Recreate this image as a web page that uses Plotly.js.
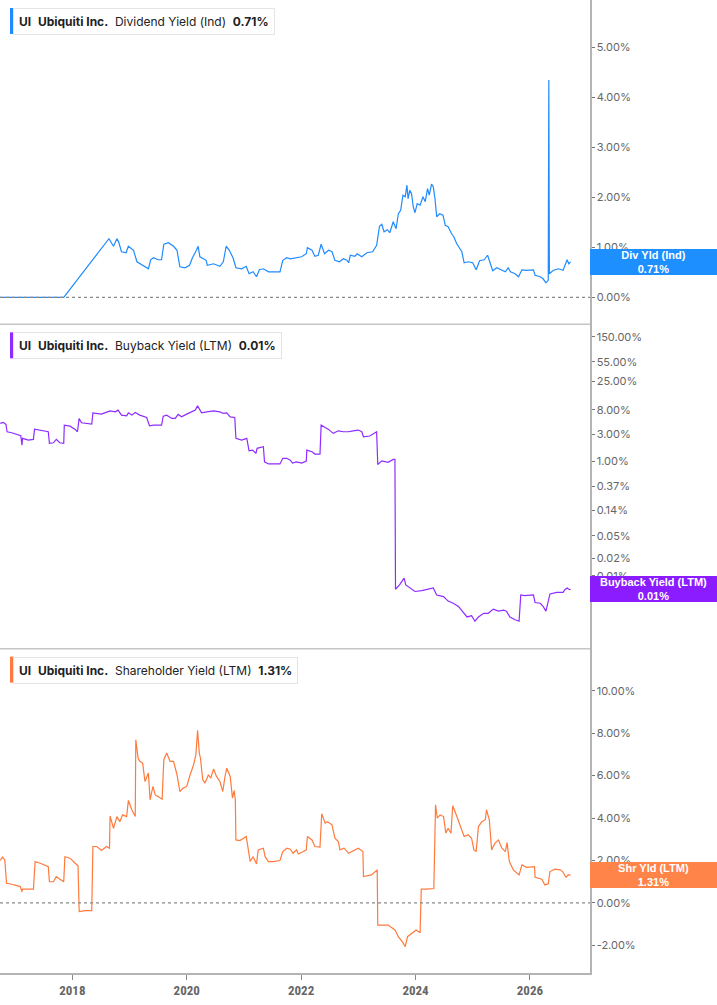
<!DOCTYPE html>
<html><head><meta charset="utf-8">
<script src="https://cdn.plot.ly/plotly-3.0.1.min.js"></script>
<style>html,body{margin:0;padding:0;background:#fff;overflow:hidden}</style>
</head><body><div id="chart" style="width:717px;height:1005px"></div>
<script>
// ---- Data (x in decimal years, y in percent) ----
const ticker = 'UI';
const company = 'Ubiquiti Inc.';
const seriesNames = ['Dividend Yield (Ind)', 'Buyback Yield (LTM)', 'Shareholder Yield (LTM)'];
const shortNames = ['Div Yld (Ind)', 'Buyback Yield (LTM)', 'Shr Yld (LTM)'];
const xTickYears = [2018, 2020, 2022, 2024, 2026];
const divTicks = [0, 1, 2, 3, 4, 5];
const bbTicks = [150, 55, 25, 8, 3, 1, 0.37, 0.14, 0.05, 0.02, 0.01];
const shrTicks = [-2, 0, 2, 4, 6, 8, 10];

const divYears = [
 2016.74, 2017.85, 2018.64, 2018.72, 2018.78, 2018.81, 2018.86, 2018.94, 2018.98, 2019.07,
 2019.13, 2019.24, 2019.33, 2019.37, 2019.42, 2019.50, 2019.56, 2019.60, 2019.68, 2019.77,
 2019.83, 2019.88, 2019.97, 2020.05, 2020.10, 2020.17, 2020.20, 2020.23, 2020.27, 2020.34,
 2020.36, 2020.47, 2020.58, 2020.64, 2020.69, 2020.74, 2020.81, 2020.86, 2020.96, 2021.04,
 2021.09, 2021.16, 2021.22, 2021.27, 2021.34, 2021.43, 2021.51, 2021.63, 2021.68, 2021.75,
 2021.81, 2021.92, 2022.01, 2022.09, 2022.11, 2022.19, 2022.24, 2022.30, 2022.35, 2022.41,
 2022.48, 2022.54, 2022.59, 2022.67, 2022.74, 2022.80, 2022.83, 2022.86, 2022.94, 2022.98,
 2023.06, 2023.15, 2023.25, 2023.32, 2023.37, 2023.41, 2023.45, 2023.51, 2023.55, 2023.61,
 2023.66, 2023.70, 2023.74, 2023.78, 2023.82, 2023.85, 2023.87, 2023.90, 2023.93, 2023.96,
 2023.99, 2024.03, 2024.08, 2024.13, 2024.17, 2024.21, 2024.24, 2024.28, 2024.31, 2024.34,
 2024.37, 2024.42, 2024.48, 2024.52, 2024.57, 2024.63, 2024.67, 2024.72, 2024.81, 2024.85,
 2024.92, 2025.00, 2025.06, 2025.12, 2025.20, 2025.26, 2025.29, 2025.35, 2025.42, 2025.51,
 2025.57, 2025.62, 2025.66, 2025.74, 2025.80, 2025.86, 2025.94, 2026.06, 2026.09, 2026.18,
 2026.23, 2026.28, 2026.32, 2026.33, 2026.34, 2026.41, 2026.50, 2026.58, 2026.63, 2026.65,
 2026.68, 2026.71];
const divValues = [
 0, 0, 1.17, 1.02, 1.17, 1.11, 0.91, 0.89, 1.02, 0.94,
 0.71, 0.64, 0.57, 0.75, 0.79, 0.75, 0.75, 1.06, 1.09, 1.02,
 0.94, 0.61, 0.59, 0.64, 0.79, 0.94, 1.02, 0.81, 0.79, 0.74,
 0.64, 0.67, 0.62, 0.71, 1.02, 0.95, 0.79, 0.59, 0.57, 0.62,
 0.47, 0.51, 0.41, 0.55, 0.57, 0.51, 0.51, 0.51, 0.74, 0.79,
 0.77, 0.80, 0.81, 0.87, 0.99, 0.94, 0.82, 0.84, 1.06, 0.87,
 0.94, 0.91, 0.74, 0.71, 0.77, 0.74, 0.69, 0.84, 0.82, 0.87,
 0.81, 0.89, 0.91, 1.04, 1.42, 1.46, 1.31, 1.35, 1.29, 1.51,
 1.37, 1.67, 1.74, 2.04, 2.01, 2.24, 1.97, 2.14, 2.07, 1.81,
 1.69, 1.87, 1.84, 2.01, 1.91, 2.17, 2.04, 2.26, 2.21, 1.97,
 1.61, 1.67, 1.64, 1.44, 1.41, 1.27, 1.21, 1.07, 0.91, 0.69,
 0.71, 0.69, 0.55, 0.73, 0.75, 0.84, 0.74, 0.53, 0.59, 0.55,
 0.51, 0.59, 0.51, 0.47, 0.41, 0.55, 0.54, 0.55, 0.44, 0.41,
 0.37, 0.29, 0.34, 4.34, 0.47, 0.54, 0.57, 0.54, 0.71, 0.75,
 0.67, 0.71];

const bbYears = [
 2016.74, 2016.79, 2016.84, 2016.86, 2016.94, 2017.03, 2017.10, 2017.12, 2017.13, 2017.23,
 2017.32, 2017.34, 2017.44, 2017.58, 2017.60, 2017.67, 2017.72, 2017.78, 2017.85, 2017.86,
 2017.96, 2018.05, 2018.09, 2018.12, 2018.16, 2018.26, 2018.34, 2018.36, 2018.43, 2018.51,
 2018.59, 2018.66, 2018.75, 2018.80, 2018.86, 2018.95, 2018.98, 2019.04, 2019.10, 2019.18,
 2019.30, 2019.35, 2019.42, 2019.56, 2019.59, 2019.65, 2019.74, 2019.80, 2019.85, 2019.91,
 2020.00, 2020.09, 2020.15, 2020.19, 2020.22, 2020.26, 2020.35, 2020.47, 2020.58, 2020.64,
 2020.70, 2020.76, 2020.84, 2020.86, 2020.96, 2021.05, 2021.09, 2021.15, 2021.21, 2021.23,
 2021.34, 2021.36, 2021.43, 2021.54, 2021.63, 2021.68, 2021.75, 2021.81, 2021.85, 2021.92,
 2022.01, 2022.09, 2022.10, 2022.19, 2022.24, 2022.33, 2022.35, 2022.42, 2022.48, 2022.56,
 2022.65, 2022.74, 2022.83, 2022.91, 2023.00, 2023.06, 2023.09, 2023.20, 2023.23, 2023.32,
 2023.34, 2023.41, 2023.52, 2023.61, 2023.64, 2023.65, 2023.72, 2023.80, 2023.83, 2023.90,
 2023.99, 2024.11, 2024.20, 2024.31, 2024.37, 2024.49, 2024.57, 2024.66, 2024.75, 2024.84,
 2024.90, 2024.98, 2025.04, 2025.10, 2025.19, 2025.27, 2025.36, 2025.45, 2025.54, 2025.59,
 2025.65, 2025.74, 2025.81, 2025.84, 2025.91, 2026.06, 2026.09, 2026.18, 2026.23, 2026.28,
 2026.32, 2026.35, 2026.47, 2026.58, 2026.61, 2026.65, 2026.69, 2026.71];
const bbValues = [
 4.61, 4.80, 4.42, 3.29, 3.16, 2.99, 2.80, 1.92, 2.52, 2.35,
 2.42, 3.66, 3.52, 3.29, 2.06, 2.11, 2.42, 2.11, 2.06, 4.30,
 4.13, 3.62, 3.29, 5.63, 4.72, 4.61, 4.48, 7.05, 6.88, 6.69,
 7.17, 7.64, 7.34, 7.86, 6.43, 6.25, 7.05, 6.43, 7.17, 6.43,
 5.86, 4.18, 4.30, 4.30, 6.18, 6.43, 5.63, 5.63, 6.61, 6.00,
 6.69, 7.34, 7.86, 9.34, 8.09, 7.05, 7.34, 7.64, 7.34, 6.88,
 7.05, 6.00, 5.86, 2.52, 2.35, 2.52, 1.53, 1.57, 1.38, 1.69,
 1.80, 0.98, 0.90, 0.90, 0.90, 1.13, 1.13, 1.05, 0.93, 0.98,
 0.93, 1.01, 1.57, 1.47, 1.34, 1.34, 4.30, 3.92, 3.62, 3.08,
 3.42, 3.29, 3.29, 3.42, 3.52, 3.29, 2.69, 2.77, 2.88, 3.29,
 0.88, 1.02, 0.96, 1.08, 1.08, 0.0058, 0.0069, 0.0091, 0.0069, 0.0061,
 0.0053, 0.0055, 0.0058, 0.0061, 0.0046, 0.0043, 0.0036, 0.0033, 0.0029, 0.0022,
 0.0019, 0.0020, 0.0016, 0.0019, 0.0022, 0.0022, 0.0026, 0.0024, 0.0025, 0.0024,
 0.0019, 0.0017, 0.0016, 0.0046, 0.0045, 0.0046, 0.0034, 0.0033, 0.0029, 0.0024,
 0.0036, 0.0048, 0.0051, 0.0051, 0.0057, 0.0061, 0.0057, 0.0058];

const shrYears = [
 2016.74, 2016.78, 2016.82, 2016.85, 2016.94, 2017.09, 2017.12, 2017.13, 2017.32, 2017.35,
 2017.44, 2017.58, 2017.60, 2017.67, 2017.72, 2017.81, 2017.85, 2017.87, 2017.96, 2018.05,
 2018.10, 2018.12, 2018.22, 2018.34, 2018.36, 2018.43, 2018.51, 2018.60, 2018.65, 2018.66,
 2018.72, 2018.78, 2018.83, 2018.88, 2018.95, 2018.98, 2019.04, 2019.10, 2019.11, 2019.15,
 2019.18, 2019.23, 2019.27, 2019.33, 2019.36, 2019.41, 2019.45, 2019.50, 2019.57, 2019.60,
 2019.65, 2019.71, 2019.77, 2019.83, 2019.88, 2019.94, 2020.00, 2020.06, 2020.12, 2020.16,
 2020.19, 2020.22, 2020.24, 2020.28, 2020.32, 2020.38, 2020.42, 2020.47, 2020.52, 2020.58,
 2020.63, 2020.67, 2020.70, 2020.76, 2020.80, 2020.83, 2020.85, 2020.86, 2020.93, 2021.04,
 2021.08, 2021.11, 2021.16, 2021.22, 2021.25, 2021.34, 2021.37, 2021.43, 2021.51, 2021.63,
 2021.68, 2021.75, 2021.81, 2021.84, 2021.86, 2021.92, 2021.95, 2022.04, 2022.09, 2022.11,
 2022.19, 2022.24, 2022.33, 2022.36, 2022.42, 2022.46, 2022.54, 2022.59, 2022.65, 2022.68,
 2022.75, 2022.83, 2022.91, 2023.00, 2023.08, 2023.09, 2023.23, 2023.33, 2023.34, 2023.44,
 2023.52, 2023.64, 2023.70, 2023.78, 2023.82, 2023.86, 2023.93, 2024.01, 2024.08, 2024.10,
 2024.20, 2024.32, 2024.35, 2024.38, 2024.43, 2024.49, 2024.53, 2024.57, 2024.62, 2024.65,
 2024.69, 2024.78, 2024.85, 2024.92, 2024.98, 2025.02, 2025.06, 2025.10, 2025.16, 2025.22,
 2025.24, 2025.29, 2025.33, 2025.39, 2025.45, 2025.51, 2025.57, 2025.60, 2025.64, 2025.71,
 2025.81, 2025.86, 2025.94, 2026.08, 2026.09, 2026.21, 2026.26, 2026.32, 2026.35, 2026.44,
 2026.53, 2026.57, 2026.63, 2026.67, 2026.71];
const shrValues = [
 2.00, 2.16, 2.03, 0.93, 0.88, 0.77, 0.53, 0.65, 0.65, 1.95,
 1.87, 1.71, 1.00, 1.00, 1.24, 1.08, 1.00, 2.18, 2.11, 1.87,
 1.75, -0.41, -0.36, -0.36, 2.66, 2.66, 2.47, 2.66, 2.58, 4.10,
 3.52, 4.07, 3.83, 4.15, 4.07, 4.83, 4.39, 4.07, 7.69, 6.83,
 6.67, 6.59, 5.72, 6.12, 4.86, 5.49, 5.09, 5.01, 4.89, 6.75,
 7.06, 6.67, 6.67, 6.04, 5.25, 5.41, 5.49, 6.04, 6.51, 6.98,
 8.13, 7.06, 6.83, 5.80, 5.65, 6.04, 5.88, 6.31, 5.96, 5.72,
 5.25, 5.96, 6.35, 5.96, 4.94, 5.30, 4.86, 2.97, 2.94, 3.13,
 2.50, 1.95, 2.18, 1.84, 2.50, 2.58, 2.18, 1.95, 1.95, 2.00,
 2.42, 2.58, 2.53, 2.42, 2.34, 2.50, 2.31, 2.42, 2.50, 3.13,
 2.97, 2.66, 2.63, 4.20, 3.76, 3.83, 3.68, 3.05, 2.89, 2.50,
 2.58, 2.34, 2.45, 2.58, 2.42, 1.24, 1.32, 1.56, -1.04, -1.04,
 -1.04, -1.27, -1.59, -1.87, -2.06, -1.59, -1.43, -1.27, -1.40, 0.65,
 0.65, 0.68, 4.62, 4.00, 4.15, 4.07, 3.29, 3.52, 3.29, 4.58,
 4.31, 3.68, 3.13, 3.21, 3.05, 2.50, 2.42, 3.60, 3.83, 3.92,
 4.39, 3.92, 2.50, 2.82, 2.97, 2.58, 2.42, 2.84, 1.95, 1.56,
 1.32, 1.79, 1.68, 1.71, 1.21, 1.12, 0.85, 0.90, 1.48, 1.59,
 1.56, 1.48, 1.21, 1.32, 1.31];

// ---- Styling ----
const lineColors = ['#1f8bff', '#8f2cff', '#ff7a3c'];
const boxColors = ['#1e8fff', '#8a1cff', '#ff8449'];
const NB = '\u00a0';
const GAP = NB + NB;
const pct = v => v.toFixed(2) + '%';
const last = a => a[a.length - 1];

const xRange = [2016.736, 2027.05];
const axisLine = '#b4b4b4';
const tickFont = {family: 'Inter, Roboto, sans-serif', size: 11, color: '#666'};

function yAx(extra) {
  return Object.assign({
    side: 'right', anchor: 'x', showline: true, linecolor: axisLine, linewidth: 1.5,
    ticks: 'outside', ticklen: 3, tickcolor: '#777', tickwidth: 1,
    tickfont: tickFont, showgrid: false, zeroline: false, fixedrange: true
  }, extra);
}

const traces = [
  {x: divYears, y: divValues, yaxis: 'y'},
  {x: bbYears, y: bbValues, yaxis: 'y2'},
  {x: shrYears, y: shrValues, yaxis: 'y3'}
].map((t, i) => Object.assign(t, {
  type: 'scatter', mode: 'lines', xaxis: 'x', hoverinfo: 'skip',
  line: {color: lineColors[i], width: 1.2}, showlegend: false
}));

const panelTops = [1, 2 / 3, 1 / 3];
const lastVals = [last(divValues), last(bbValues), last(shrValues)];
const yrefs = ['y', 'y2', 'y3'];

const shapes = [
  {type: 'line', xref: 'paper', yref: 'y', x0: 0, x1: 1, y0: 0, y1: 0, line: {color: '#8a8a8a', width: 1.3, dash: 'dot'}},
  {type: 'line', xref: 'paper', yref: 'y3', x0: 0, x1: 1, y0: 0, y1: 0, line: {color: '#8a8a8a', width: 1.3, dash: 'dot'}},
  {type: 'line', xref: 'paper', yref: 'paper', x0: 0, x1: 1, y0: 2 / 3, y1: 2 / 3, line: {color: '#c6c6c6', width: 1.5}},
  {type: 'line', xref: 'paper', yref: 'paper', x0: 0, x1: 1, y0: 1 / 3, y1: 1 / 3, line: {color: '#c6c6c6', width: 1.5}}
];
const annotations = [];

panelTops.forEach((top, i) => {
  shapes.push({
    type: 'rect', xref: 'paper', xsizemode: 'pixel', xanchor: 0, x0: 10, x1: 14,
    yref: 'paper', ysizemode: 'pixel', yanchor: top, y0: -34, y1: -8,
    fillcolor: lineColors[i], line: {width: 0}
  });
  annotations.push({
    xref: 'paper', x: 0, xanchor: 'left', xshift: 13,
    yref: 'paper', y: top, yanchor: 'top', yshift: -8,
    showarrow: false, align: 'left',
    text: '<b>' + ticker + '</b>' + GAP + '<b>' + company + '</b>' + GAP +
          seriesNames[i] + GAP + '<b>' + pct(lastVals[i]) + '</b>',
    font: {family: 'Inter, Roboto, sans-serif', size: 12, color: '#222'},
    bgcolor: '#ffffff', bordercolor: '#e4e4e4', borderwidth: 1, borderpad: 5
  });
  annotations.push({
    xref: 'paper', x: 1, xanchor: 'left',
    yref: yrefs[i], y: i === 1 ? Math.log10(lastVals[i]) : lastVals[i], yanchor: 'middle',
    showarrow: false, align: 'center',
    text: '<b>' + shortNames[i] + '</b><br><b>' + pct(lastVals[i]) + '</b>',
    font: {family: 'Liberation Sans, Arial, sans-serif', size: 11, color: '#ffffff'},
    bgcolor: boxColors[i], borderwidth: 0, borderpad: 2, width: 123, height: 22
  });
});

const layout = {
  width: 717, height: 1005,
  margin: {l: 0, r: 127, t: 0, b: 32, pad: 0},
  paper_bgcolor: '#ffffff', plot_bgcolor: '#ffffff',
  showlegend: false,
  xaxis: {
    domain: [0, 1], range: xRange, anchor: 'y3',
    tickvals: xTickYears, ticktext: xTickYears.map(String),
    ticks: 'outside', ticklen: 5, tickcolor: '#888', tickwidth: 1,
    showline: true, linecolor: axisLine, linewidth: 1.5,
    showgrid: false, zeroline: false, fixedrange: true,
    tickfont: {family: 'Liberation Sans Narrow, Roboto Condensed, Roboto, sans-serif', size: 13, color: '#666', weight: 'bold'}
  },
  yaxis: yAx({domain: [2 / 3, 1], range: [-0.54, 5.94], tickvals: divTicks, ticktext: divTicks.map(pct)}),
  yaxis2: yAx({domain: [1 / 3, 2 / 3], type: 'log', range: [-3.276, 2.396], tickvals: bbTicks, ticktext: bbTicks.map(pct)}),
  yaxis3: yAx({domain: [0, 1 / 3], range: [-3.30, 11.98], tickvals: shrTicks, ticktext: shrTicks.map(pct)}),
  shapes: shapes,
  annotations: annotations
};

Plotly.newPlot('chart', traces, layout, {staticPlot: true, displayModeBar: false});
</script></body></html>
